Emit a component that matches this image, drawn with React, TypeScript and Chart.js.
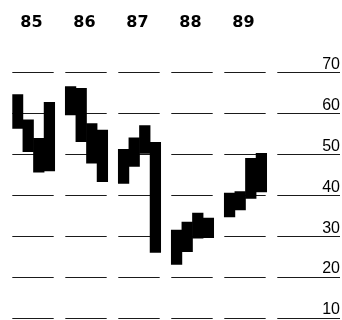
import { useEffect, useRef } from 'react';
import { Chart, registerables } from 'chart.js';

Chart.register(...registerables);

// Quarterly price ranges, 1985-1989 (four quarters per year)
const years = ['85', '86', '87', '88', '89'];
const quarterLows = [
  56.3, 50.6, 45.6, 45.9,
  59.6, 53.1, 47.8, 43.3,
  42.9, 47.0, 50.2, 26.0,
  23.1, 26.2, 29.5, 29.6,
  34.7, 36.4, 39.2, 40.8,
];
const quarterHighs = [
  64.6, 58.4, 53.9, 62.7,
  66.5, 66.1, 57.5, 55.9,
  51.2, 54.0, 57.0, 52.9,
  31.5, 33.4, 35.6, 34.4,
  40.5, 40.9, 49.0, 50.2,
];
const priceTicks = [10, 20, 30, 40, 50, 60, 70];

// Each year takes four quarter slots plus one empty spacer slot
const SLOTS_PER_YEAR = 5;
const QUARTERS = 4;

const slotOf = (k: number) => Math.floor(k / QUARTERS) * SLOTS_PER_YEAR + (k % QUARTERS);

// Horizontal rules broken into one segment per year, with a last one under the axis labels
const segmentedGrid = {
  id: 'segmentedGrid',
  beforeDatasetsDraw(chart: any) {
    const { ctx, scales } = chart;
    const x = scales.x;
    const y = scales.y;
    ctx.save();
    ctx.strokeStyle = '#1a1a1a';
    ctx.lineWidth = 1;
    for (const v of priceTicks) {
      const py = Math.round(y.getPixelForValue(v)) + 0.5;
      for (let i = 0; i <= years.length; i++) {
        const start = x.getPixelForValue(i * SLOTS_PER_YEAR - 0.5);
        const end =
          i < years.length
            ? x.getPixelForValue(i * SLOTS_PER_YEAR + QUARTERS - 0.5) - 1
            : chart.width - 2;
        ctx.beginPath();
        ctx.moveTo(start, py);
        ctx.lineTo(end, py);
        ctx.stroke();
      }
    }
    ctx.restore();
  },
};

export default function App() {
  const canvasRef = useRef<HTMLCanvasElement | null>(null);

  useEffect(() => {
    const canvas = canvasRef.current;
    if (!canvas) return;

    const data = quarterLows.map((lo, k) => ({ x: slotOf(k), y: [lo, quarterHighs[k]] }));

    const chart = new Chart(canvas, {
      type: 'bar',
      data: {
        datasets: [
          {
            data: data as any,
            backgroundColor: '#000',
            borderWidth: 0,
            barPercentage: 1,
            categoryPercentage: 1,
          },
        ],
      },
      options: {
        responsive: false,
        animation: false,
        layout: { padding: { left: 12.3, right: 2, top: 7, bottom: 12 } },
        plugins: {
          legend: { display: false },
          tooltip: { enabled: false },
        },
        scales: {
          x: {
            type: 'linear',
            position: 'top',
            offset: false,
            min: -0.5,
            max: 28.53,
            grid: { display: false, drawTicks: false },
            border: { display: false },
            afterBuildTicks: (s: any) => {
              s.ticks = years.map((_, i) => ({ value: i * SLOTS_PER_YEAR + 1.5 }));
            },
            ticks: {
              callback: (_v: any, i: number) => years[i],
              font: { family: 'DejaVu Sans', weight: 'bold', size: 16 },
              color: '#000',
              padding: 6.7,
              maxRotation: 0,
              autoSkip: false,
              labelOffset: -2,
            },
          },
          y: {
            position: 'right',
            min: 7.56,
            max: 78,
            grid: { display: false, drawTicks: false },
            border: { display: false },
            afterBuildTicks: (s: any) => {
              s.ticks = priceTicks.map((v) => ({ value: v }));
            },
            afterFit: (s: any) => {
              s.width = 20;
            },
            ticks: {
              font: { family: 'Liberation Sans', size: 16 },
              color: '#000',
              padding: 2,
              crossAlign: 'far',
              labelOffset: -8,
            },
          },
        },
      } as any,
      plugins: [segmentedGrid],
    });

    return () => chart.destroy();
  }, []);

  return (
    <div
      style={{
        position: 'absolute',
        left: 0,
        top: 0,
        width: 342,
        height: 320,
        overflow: 'hidden',
        background: '#fff',
      }}
    >
      <canvas ref={canvasRef} width={342} height={340} style={{ display: 'block' }} />
    </div>
  );
}
